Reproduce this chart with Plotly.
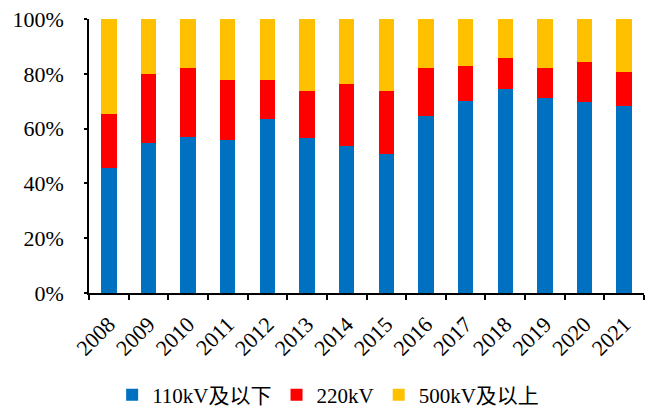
import plotly.graph_objects as go

years = ["2008", "2009", "2010", "2011", "2012", "2013", "2014",
         "2015", "2016", "2017", "2018", "2019", "2020", "2021"]

# cumulative top of each stack segment (percent)
top_110kv = [45.8, 54.6, 57.0, 55.8, 63.5, 56.5, 53.6,
             50.7, 64.6, 70.2, 74.3, 71.1, 69.6, 68.1]
top_220kv = [65.4, 80.0, 82.1, 77.6, 77.8, 73.8, 76.2,
             73.7, 82.1, 82.9, 85.8, 82.1, 84.4, 80.6]

share_110kv = top_110kv
share_220kv = [round(b - a, 1) for a, b in zip(top_110kv, top_220kv)]
share_500kv = [round(100 - b, 1) for b in top_220kv]

series_names = ["110kV及以下", "220kV", "500kV及以上"]
series_colors = ["#0070C0", "#FF0000", "#FFC000"]

font_family = "Liberation Serif, Times New Roman, Noto Sans CJK SC, serif"

fig = go.Figure()
for name, vals, color in zip(series_names,
                             [share_110kv, share_220kv, share_500kv],
                             series_colors):
    fig.add_trace(go.Bar(
        x=years, y=vals, name=name,
        marker=dict(color=color, line=dict(width=0)),
    ))

fig.update_layout(
    barmode="stack",
    bargap=0.61,
    width=652, height=409,
    margin=dict(l=89, r=8, t=19, b=115.5, autoexpand=False),
    paper_bgcolor="white",
    plot_bgcolor="white",
    font=dict(family=font_family, size=22, color="black"),
    showlegend=True,
    legend=dict(
        orientation="h",
        xref="container", yref="container",
        x=0.172, xanchor="left",
        y=0.034, yanchor="middle",
        font=dict(size=21),
        itemwidth=30,
        traceorder="normal",
        borderwidth=0,
    ),
)

fig.update_xaxes(
    type="category",
    automargin=False,
    showline=True, linecolor="black", linewidth=1.5,
    ticks="outside", tickson="boundaries", ticklen=5,
    tickcolor="black", tickwidth=1.5,
    tickangle=-45,
    tickfont=dict(size=22),
    ticklabelstandoff=8,
    showgrid=False,
)
fig.update_yaxes(
    range=[0, 100],
    automargin=False,
    tickvals=[0, 20, 40, 60, 80, 100],
    ticktext=["0%", "20%", "40%", "60%", "80%", "100%"],
    showline=True, linecolor="black", linewidth=1.5,
    ticks="outside", ticklen=3, tickcolor="black", tickwidth=1.5,
    tickfont=dict(size=22),
    ticklabelstandoff=16,
    showgrid=False, zeroline=False,
)

fig.write_html("out.html")
